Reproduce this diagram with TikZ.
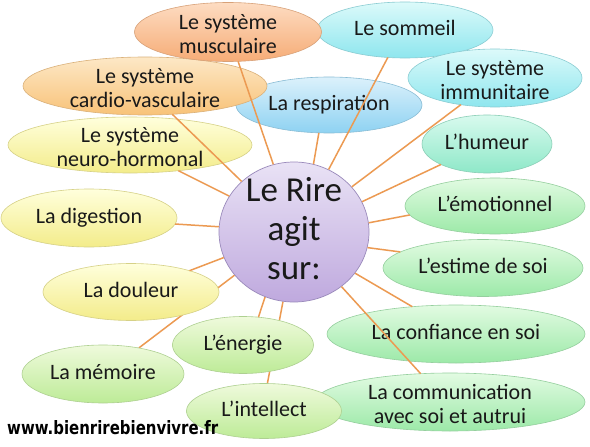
\documentclass[tikz,border=0pt]{standalone}
\usepackage{fontspec}
\setmainfont{Carlito}
\newfontfamily\wmfont{DejaVu Sans}
\usepackage{graphicx}
\usetikzlibrary{shapes.geometric}
\definecolor{lineor}{HTML}{EC9A52}
\definecolor{musT}{HTML}{FDDCC2}\definecolor{musB}{HTML}{F6AC76}
\definecolor{carT}{HTML}{FDE8C6}\definecolor{carB}{HTML}{F8C278}
\definecolor{yelT}{HTML}{FFFFDC}\definecolor{yelB}{HTML}{F3EC8A}
\definecolor{ygT}{HTML}{EFFADC}\definecolor{ygB}{HTML}{BDEB97}
\definecolor{grT}{HTML}{E2FBE2}\definecolor{grB}{HTML}{9CE9A8}
\definecolor{huT}{HTML}{D8FAEE}\definecolor{huB}{HTML}{8EE8C8}
\definecolor{cyT}{HTML}{DCFAFA}\definecolor{cyB}{HTML}{8EE6EE}
\definecolor{reT}{HTML}{DCF1FB}\definecolor{reB}{HTML}{8ED2F2}
\definecolor{ciT}{HTML}{E9E2F5}\definecolor{ciB}{HTML}{BFA9DE}
\definecolor{ciD}{HTML}{9A8ABB}
\pgfdeclarelayer{bg}
\pgfsetlayers{bg,main}
\begin{document}
\begin{tikzpicture}[x=1pt,y=-1pt,
  bub/.style 2 args={ellipse, inner sep=0pt, outer sep=0pt, top color=#1, bottom color=#2, draw=#2!75!gray, line width=0.6pt},
  sz/.style 2 args={minimum width=#1, minimum height=#2},
  txt/.style={inner sep=0pt, font=\fontsize{22}{24}\selectfont, text=black!90, text height=15pt, text depth=5pt},
  txtb/.style={inner sep=0pt, font=\fontsize{22}{24}\selectfont, text=black!90, align=center},
  con/.style={draw=lineor, line width=1.5pt}]
\begin{pgfonlayer}{bg}
\fill[white] (0,0) rectangle (590,447);
\end{pgfonlayer}
\useasboundingbox (0,0) rectangle (590,447);

% centre
\node[ellipse, inner sep=0pt, top color=ciT, bottom color=ciB, draw=ciD, line width=0.7pt, sz={150pt}{140pt}] (c) at (294,232) {};
\node[inner sep=0pt, align=center, font=\fontsize{35}{39}\selectfont, text=black!90] (c-t) at (294,229) {Le Rire\\agit\\sur:};

% bubbles
\node[bub={reT}{reB}, sz={186pt}{56pt}] (res) at (329,105) {};
\node[txt] (res-t) at (res) {La respiration};
\node[bub={carT}{carB}, sz={244pt}{58pt}] (car) at (145,86) {};
\node[txtb] (car-t) at (145,88) {Le système\\cardio-vasculaire};
\node[bub={yelT}{yelB}, sz={244pt}{56pt}] (neu) at (130,145) {};
\node[txtb] (neu-t) at (130,147) {Le système\\neuro-hormonal};
\node[bub={yelT}{yelB}, sz={176pt}{58pt}] (dig) at (89,218) {};
\node[txt] (dig-t) at (dig) {La digestion};
\node[bub={cyT}{cyB}, sz={176pt}{56pt}] (som) at (405,30) {};
\node[txt] (som-t) at (som) {Le sommeil};
\node[bub={musT}{musB}, sz={187pt}{59pt}] (mus) at (228,32) {};
\node[txtb] (mus-t) at (228,34) {Le système\\musculaire};
\node[bub={cyT}{cyB}, sz={174pt}{58pt}] (imm) at (495,78) {};
\node[txtb] (imm-t) at (495,80) {Le système\\immunitaire};
\node[bub={huT}{huB}, sz={130pt}{58pt}] (hum) at (487,144) {};
\node[txt] (hum-t) at (hum) {L’humeur};
\node[bub={grT}{grB}, sz={180pt}{56pt}] (emo) at (495,206) {};
\node[txt] (emo-t) at (emo) {L’émotionnel};
\node[bub={grT}{grB}, sz={200pt}{57pt}] (est) at (483,268) {};
\node[txt] (est-t) at (est) {L’estime de soi};
\node[bub={grT}{grB}, sz={258pt}{58pt}] (con) at (456,334) {};
\node[txt] (con-t) at (con) {La confiance en soi};
\node[bub={grT}{grB}, sz={270pt}{58pt}] (com) at (450,402) {};
\node[txtb] (com-t) at (450,404) {La communication\\avec soi et autrui};
\node[bub={yelT}{yelB}, sz={176pt}{57pt}] (dou) at (131,292) {};
\node[txt] (dou-t) at (dou) {La douleur};
\node[bub={ygT}{ygB}, sz={162pt}{58pt}] (mem) at (103,374) {};
\node[txt] (mem-t) at (mem) {La mémoire};
\node[bub={ygT}{ygB}, sz={141pt}{57pt}] (ene) at (243,345) {};
\node[txt] (ene-t) at (ene) {L’énergie};
\node[bub={ygT}{ygB}, sz={155pt}{55pt}] (int) at (264,411) {};
\node[txt] (int-t) at (int) {L’intellect};

% connectors behind bubbles
\begin{pgfonlayer}{bg}
\draw[con] (c.216.4) -- (mem.36.1);
\draw[con] (c.261.8) -- (int.83.4);
\end{pgfonlayer}

% connectors over bubbles
\draw[con] (c.107.7) -- (mus.289.7);
\draw[con] (c.136.1) -- (car.314);
\draw[con] (c.151.7) -- (neu.332.6);
\draw[con] (c.176) -- (dig.356);
\draw[con] (c.200.4) -- (dou.20.4);
\draw[con] (c.246.3) -- (ene.61.8);
\draw[con] (c.311.2) -- (com.136);
\draw[con] (c.326.9) -- (con.148.5);
\draw[con] (c.348.8) -- (est.169.8);
\draw[con] (c.7.5) -- (emo.186.7);
\draw[con] (c.24.3) -- (hum.204.1);
\draw[con] (c.38.5) -- (imm.218.1);
\draw[con] (c.61.3) -- (som.238.7);
\draw[con] (c.74.6) -- (res.250.3);

% watermark
\node[anchor=base west, inner sep=0pt] (wm) at (7,434) {\resizebox{211pt}{14pt}{\wmfont\bfseries www.bienrirebienvivre.fr}};
\end{tikzpicture}
\end{document}
